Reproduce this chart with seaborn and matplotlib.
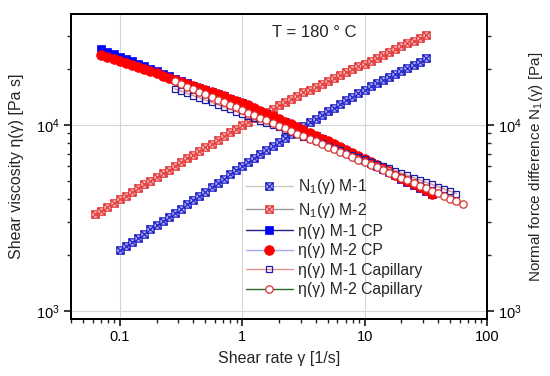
import numpy as np
import matplotlib
matplotlib.use("Agg")
import matplotlib.pyplot as plt
from matplotlib.path import Path
from matplotlib.ticker import FixedLocator, FuncFormatter, LogLocator, NullFormatter
import seaborn as sns

# ---------------- data ----------------
# N1 M-1
n1_m1_rate = [0.1, 0.112, 0.126, 0.141, 0.158, 0.178, 0.2, 0.224, 0.251, 0.282,
              0.316, 0.355, 0.398, 0.447, 0.501, 0.562, 0.631, 0.708, 0.794, 0.891,
              1.0, 1.12, 1.26, 1.41, 1.58, 1.78, 2.0, 2.24, 2.51, 2.82,
              3.16, 3.55, 3.98, 4.47, 5.01, 5.62, 6.31, 7.08, 7.94, 8.91,
              10.0, 11.2, 12.6, 14.1, 15.8, 17.8, 20.0, 22.4, 25.1, 28.2, 31.6]
n1_m1 = [2118, 2230, 2350, 2473, 2606, 2742, 2884, 3041, 3199, 3373,
         3548, 3741, 3945, 4159, 4385, 4624, 4875, 5140, 5420, 5715,
         6026, 6339, 6653, 6998, 7362, 7727, 8128, 8551, 8974, 9441,
         9886, 10330, 10810, 11300, 11830, 12390, 12940, 13550, 14160, 14830,
         15490, 16100, 16750, 17380, 18070, 18790, 19540, 20280, 21090, 21930, 22800]

# N1 M-2
n1_m2_rate = [0.0631, 0.0708, 0.0794, 0.0891, 0.1, 0.112, 0.126, 0.141, 0.158, 0.178,
              0.2, 0.224, 0.251, 0.282, 0.316, 0.355, 0.398, 0.447, 0.501, 0.562,
              0.631, 0.708, 0.794, 0.891, 1.0, 1.12, 1.26, 1.41, 1.58, 1.78,
              2.0, 2.24, 2.51, 2.82, 3.16, 3.55, 3.98, 4.47, 5.01, 5.62,
              6.31, 7.08, 7.94, 8.91, 10.0, 11.2, 12.6, 14.1, 15.8, 17.8,
              20.0, 22.4, 25.1, 28.2, 31.6]
n1_m2 = [3311, 3467, 3631, 3802, 3981, 4169, 4365, 4571, 4786, 5012,
         5248, 5495, 5754, 6026, 6310, 6607, 6918, 7244, 7586, 7943,
         8318, 8710, 9120, 9550, 10000, 10410, 10840, 11290, 11750, 12230,
         12740, 13260, 13800, 14370, 14960, 15510, 16070, 16660, 17260, 17890,
         18530, 19210, 19910, 20630, 21380, 22160, 22960, 23800, 24660, 25560,
         26490, 27450, 28440, 29480, 30550]

# eta CP (cone-plate), both materials
cp_rate = [0.0708, 0.0794, 0.0891, 0.1, 0.112, 0.126, 0.141, 0.158, 0.178,
           0.2, 0.224, 0.251, 0.282, 0.316, 0.355, 0.398, 0.447, 0.501, 0.562,
           0.631, 0.708, 0.794, 0.891, 1.0, 1.12, 1.26, 1.41, 1.58, 1.78,
           2.0, 2.24, 2.51, 2.82, 3.16, 3.55, 3.98, 4.47, 5.01, 5.62,
           6.31, 7.08, 7.94, 8.91, 10.0, 11.2, 12.6, 14.1, 15.8, 17.8,
           20.0, 22.4, 25.1, 28.2, 31.6, 35.5]
eta_m1_cp = [25590, 24770, 24040, 23330, 22650, 21980, 21310, 20650, 20040,
             19450, 18870, 18280, 17740, 17220, 16710, 16200, 15780, 15380, 15000,
             14620, 14240, 13870, 13520, 13180, 12630, 12220, 11800, 11410, 11040,
             10670, 10310, 9980, 9640, 9290, 8980, 8670, 8380, 8090, 7800,
             7530, 7280, 7020, 6760, 6500, 6250, 6030, 5800, 5570, 5360,
             5150, 4960, 4770, 4580, 4410, 4240]
eta_m2_cp = [23870, 23230, 22650, 22080, 21530, 20990, 20440, 19910, 19410,
             18920, 18440, 17950, 17500, 17060, 16630, 16200, 15780, 15380, 15000,
             14620, 14240, 13870, 13520, 13180, 12740, 12330, 11910, 11510, 11140,
             10770, 10400, 10070, 9727, 9376, 9057, 8750, 8453, 8166, 7870,
             7603, 7345, 7079, 6823, 6561, 6310, 6081, 5848, 5623, 5408,
             5200, 5000, 4808, 4624, 4446, 4276]

# eta capillary
cap_m1_rate = [0.282, 0.316, 0.355, 0.398, 0.447, 0.501, 0.562, 0.631, 0.708, 0.794,
               0.891, 1.0, 1.12, 1.26, 1.41, 1.58, 1.78, 2.0, 2.24, 2.51,
               2.82, 3.16, 3.55, 3.98, 4.47, 5.01, 5.62, 6.31, 7.08, 7.94,
               8.91, 10.0, 11.2, 12.6, 14.1, 15.8, 17.8, 20.0, 22.4, 25.1,
               28.2, 31.6, 35.5, 39.8, 44.7, 50.1, 56.2]
eta_m1_cap = [15660, 15220, 14790, 14380, 13990, 13600, 13210, 12850, 12500, 12150,
              11810, 11480, 11160, 10850, 10550, 10250, 9972, 9694, 9425, 9162,
              8910, 8660, 8420, 8185, 7958, 7736, 7522, 7311, 7109, 6911,
              6720, 6531, 6351, 6174, 6003, 5834, 5673, 5514, 5362, 5212,
              5068, 4926, 4790, 4656, 4528, 4400, 4279]
cap_m2_rate = [0.282, 0.316, 0.355, 0.398, 0.447, 0.501, 0.562, 0.631, 0.708, 0.794,
               0.891, 1.0, 1.12, 1.26, 1.41, 1.58, 1.78, 2.0, 2.24, 2.51,
               2.82, 3.16, 3.55, 3.98, 4.47, 5.01, 5.62, 6.31, 7.08, 7.94,
               8.91, 10.0, 11.2, 12.6, 14.1, 15.8, 17.8, 20.0, 22.4, 25.1,
               28.2, 31.6, 35.5, 39.8, 44.7, 50.1, 56.2, 63.1]
eta_m2_cap = [17140, 16600, 16070, 15560, 15070, 14590, 14130, 13680, 13240, 12820,
              12420, 12020, 11640, 11270, 10910, 10570, 10230, 9908, 9594, 9290,
              8995, 8710, 8433, 8166, 7907, 7656, 7413, 7178, 6950, 6730,
              6516, 6310, 6109, 5916, 5728, 5546, 5370, 5200, 5035, 4875,
              4721, 4571, 4426, 4285, 4150, 4018, 3890, 3767]

labels = [r"N$_1$(γ) M-1", r"N$_1$(γ) M-2",
          "η(γ) M-1 CP", "η(γ) M-2 CP",
          "η(γ) M-1 Capillary", "η(γ) M-2 Capillary"]
x_ticks = [0.1, 1, 10, 100]

# ---------------- style ----------------
sns.set_theme(style="white")
plt.rcParams["font.family"] = ["Liberation Sans", "DejaVu Sans"]
plt.rcParams["mathtext.fontset"] = "custom"
plt.rcParams["mathtext.rm"] = "Liberation Sans"
plt.rcParams["mathtext.it"] = "Liberation Sans"

fig = plt.figure(figsize=(5.5, 3.76), dpi=100)
ax = fig.add_axes([71 / 550, 1 - 319 / 376, 416 / 550, 305 / 376])

box_x = Path([(-1, -1), (1, -1), (1, 1), (-1, 1), (-1, -1),
              (-1, -1), (1, 1), (-1, 1), (1, -1)],
             [Path.MOVETO, Path.LINETO, Path.LINETO, Path.LINETO, Path.CLOSEPOLY,
              Path.MOVETO, Path.LINETO, Path.MOVETO, Path.LINETO])

common = dict(ax=ax, estimator=None, sort=False, legend=False)

sns.lineplot(x=n1_m1_rate, y=n1_m1, color="#c8c8c8", lw=1.0, marker=box_x,
             ms=5.3, mec="#2323c8", mfc="#b8bcf4", mew=0.9, label=labels[0], **common)
sns.lineplot(x=n1_m2_rate, y=n1_m2, color="#9a9a9a", lw=1.0, marker=box_x,
             ms=5.3, mec="#e43a3a", mfc="#f6c4c4", mew=0.9, label=labels[1], **common)
sns.lineplot(x=cp_rate, y=eta_m1_cp, color="#202080", lw=1.0, marker="s",
             ms=6.0, mec="#0000ff", mfc="#0000ff", mew=0.5, label=labels[2], **common)
sns.lineplot(x=cp_rate, y=eta_m2_cp, color="#a8a8e8", lw=1.0, marker="o",
             ms=7.0, mec="#ff0000", mfc="#ff0000", mew=0.5, label=labels[3], **common)
sns.lineplot(x=cap_m1_rate, y=eta_m1_cap, color="#e89090", lw=1.0, marker="s",
             ms=5.0, mec="#1c1ca8", mfc="none", mew=0.9, label=labels[4], **common)
sns.lineplot(x=cap_m2_rate, y=eta_m2_cap, color="#2a6a2a", lw=1.0, marker="o",
             ms=5.3, mec="#d83030", mfc="white", mew=0.9, label=labels[5], **common)

ax.set_xscale("log")
ax.set_yscale("log")
ax.set_xlim(0.04, 100)
ax.set_ylim(905, 39500)

ax.xaxis.set_major_locator(FixedLocator(x_ticks))
ax.xaxis.set_major_formatter(FuncFormatter(lambda v, p: f"{v:g}"))
ax.xaxis.set_minor_locator(LogLocator(base=10, subs=np.arange(2, 10)))
ax.xaxis.set_minor_formatter(NullFormatter())
ax.yaxis.set_major_locator(FixedLocator([1e3, 1e4]))
ax.yaxis.set_minor_locator(LogLocator(base=10, subs=np.arange(2, 10)))
ax.yaxis.set_minor_formatter(NullFormatter())

ax.grid(True, which="major", color="#d6d6d6", lw=0.8)
ax.set_axisbelow(True)
for s in ax.spines.values():
    s.set_color("black")
    s.set_linewidth(1.4)

ax.tick_params(which="major", direction="out", length=5, width=1.1, labelsize=10.5,
               colors="black", bottom=True, left=True, top=False, right=False, pad=3)
ax.tick_params(which="minor", direction="out", length=3, width=1.0,
               bottom=True, left=True, top=False, right=False)

ax2 = ax.twinx()
ax2.set_yscale("log")
ax2.set_ylim(ax.get_ylim())
ax2.yaxis.set_major_locator(FixedLocator([1e3, 1e4]))
ax2.yaxis.set_minor_locator(LogLocator(base=10, subs=np.arange(2, 10)))
ax2.yaxis.set_minor_formatter(NullFormatter())
ax2.tick_params(which="major", direction="out", length=5, width=1.1, labelsize=10.5,
                colors="black", right=True, pad=3)
ax2.tick_params(which="minor", direction="out", length=3, width=1.0, right=True)
for s in ax2.spines.values():
    s.set_color("black")
    s.set_linewidth(1.4)
ax2.grid(False)

ax.set_xlabel("Shear rate γ [1/s]", fontsize=11.5, labelpad=5)
ax.set_ylabel("Shear viscosity η(γ) [Pa s]", fontsize=11.5, labelpad=9)
ax2.set_ylabel(r"Normal force difference N$_1$(γ) [Pa]", fontsize=11, labelpad=4)

ax.text(0.584, 0.94, "T = 180 ° C", transform=ax.transAxes, ha="center", va="center",
        fontsize=12)

leg = ax.legend(loc="upper left", bbox_to_anchor=(0.42, 0.465), frameon=False,
                fontsize=11.3, handlelength=3.0, handletextpad=0.3,
                labelspacing=0.28, borderpad=0, borderaxespad=0)

fig.savefig("out.png", dpi=100)
